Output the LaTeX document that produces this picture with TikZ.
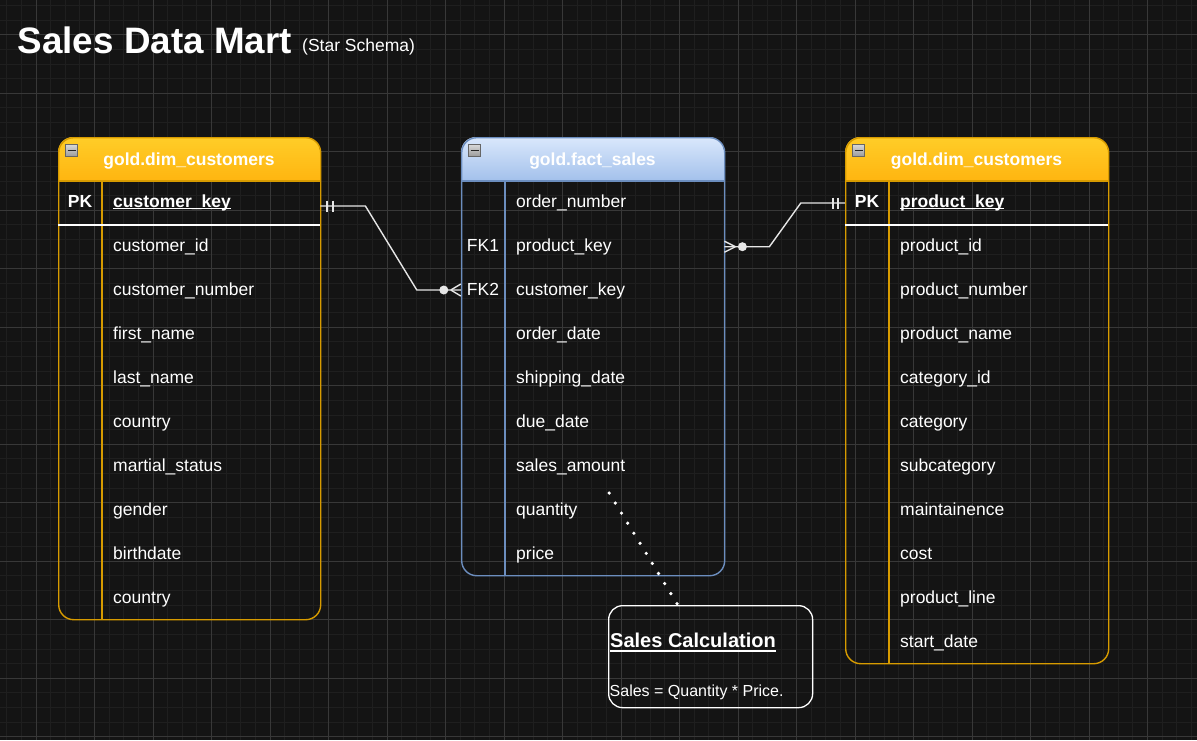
\documentclass[tikz,border=0pt]{standalone}
\usepackage{fontspec}
\setmainfont{Liberation Sans}
\usetikzlibrary{calc}
\definecolor{bg}{HTML}{141414}
\definecolor{gridminor}{HTML}{1F1F1F}
\definecolor{gridmajor}{HTML}{383838}
\definecolor{orstroke}{HTML}{D79B00}
\definecolor{ortop}{HTML}{FFCD28}
\definecolor{orbot}{HTML}{FFA500}
\definecolor{blstroke}{HTML}{6C8EBF}
\definecolor{bltop}{HTML}{DAE8FC}
\definecolor{blbot}{HTML}{7EA6E0}
\definecolor{conn}{HTML}{E6E6E6}
\newcommand\myul[2][-2pt]{\leavevmode\setbox0\hbox{#2}\rlap{\rule[#1]{\wd0}{1.6pt}}\box0}
\begin{document}
\begin{tikzpicture}[x=1pt,y=-1pt,
  tbltext/.style={font=\fontsize{17.5}{21}\selectfont, text=white, text height=12.6pt, text depth=0pt},
  namecell/.style={tbltext, inner xsep=11pt, inner ysep=0pt, minimum height=44pt, text width=#1, align=left, anchor=west},
  keycell/.style={tbltext, inner sep=0pt, minimum width=44pt, minimum height=44pt},
  hdrtext/.style={font=\fontsize{17.5}{21}\selectfont\bfseries, text=white, text height=12.6pt, text depth=0pt, inner sep=0pt},
  tblbox/.style={draw=#1, line width=1.4pt, rounded corners=15pt, inner sep=0pt, anchor=north west},
  minusbox/.style={draw=black!60, line width=0.6pt, top color=white!85!black, bottom color=white!60!black, minimum size=12.5pt, inner sep=0pt,
    path picture={\draw[black!85, line width=1.6pt] ([xshift=-4pt]path picture bounding box.center) -- ([xshift=4pt]path picture bounding box.center);}},
  connline/.style={conn, line width=1.4pt},
]
\useasboundingbox (0,0) rectangle (1197,740);
% background and grid
\fill[bg] (0,0) rectangle (1197,740);
\foreach \i in {0,...,81} \draw[gridminor, line width=1pt] ({6.75+14.625*\i},0) -- ++(0,740);
\foreach \i in {0,...,50} \draw[gridminor, line width=1pt] (0,{5.55+14.625*\i}) -- ++(1197,0);
\foreach \i in {0,...,19} \draw[gridmajor, line width=1pt] ({36+58.5*\i},0) -- ++(0,740);
\foreach \i in {0,...,12} \draw[gridmajor, line width=1pt] (0,{34.8+58.5*\i}) -- ++(1197,0);

% title
\node[anchor=base west, inner sep=0pt, text=white, font=\fontsize{36.8}{40}\selectfont\bfseries] (title) at (17.5,53) {Sales Data Mart};
\node[anchor=base west, inner sep=0pt, text=white, font=\fontsize{17.5}{21}\selectfont] (subtitle) at (302,51) {(Star Schema)};

% ---------- left table ----------
\begin{scope}
\clip (58,130) rectangle (320,181);
\shade[top color=ortop, bottom color=orbot, rounded corners=15pt] (58,137) rectangle (320,210);
\end{scope}
\node[tblbox=orstroke, minimum width=262pt, minimum height=482pt] (cust) at (58,137) {};
\draw[orstroke, line width=1.4pt] (58,181) -- (320,181);
\draw[orstroke, line width=1.4pt] (102,181) -- (102,619);
\draw[white, line width=1.5pt] (58,225) -- (320,225);
\node[minusbox] (cust-icon) at (71.5,150.5) {};
\node[hdrtext] (cust-title) at (189,159) {gold.dim\_customers};
\node[keycell, font=\fontsize{17.5}{21}\selectfont\bfseries] (cust-pkkey) at (80,201) {PK};
\node[namecell=196pt, font=\fontsize{17.5}{21}\selectfont\bfseries] (cust-pk) at (102,201) {\myul{customer\_key}};
\foreach \n [count=\i] in {customer\_id, customer\_number, first\_name, last\_name, country, martial\_status, gender, birthdate, country}
  \node[namecell=196pt] (cust-\i) at (102,{201+44*\i}) {\n};

% ---------- fact table ----------
\begin{scope}
\clip (461,130) rectangle (724,181);
\shade[top color=bltop, bottom color=blbot, rounded corners=15pt] (461,137) rectangle (724,210);
\end{scope}
\node[tblbox=blstroke, minimum width=263pt, minimum height=438pt] (fact) at (461,137) {};
\draw[blstroke, line width=1.4pt] (461,181) -- (724,181);
\draw[blstroke, line width=1.4pt] (505,181) -- (505,575);
\node[minusbox] (fact-icon) at (474.5,150.5) {};
\node[hdrtext] (fact-title) at (592.5,159) {gold.fact\_sales};
\node[keycell] (fact-fk1) at (483,245) {FK1};
\node[keycell] (fact-fk2) at (483,289) {FK2};
\foreach \n [count=\i from 0] in {order\_number, product\_key, customer\_key, order\_date, shipping\_date, due\_date, sales\_amount, quantity, price}
  \node[namecell=197pt] (fact-\i) at (505,{201+44*\i}) {\n};

% ---------- right table ----------
\begin{scope}
\clip (845,130) rectangle (1108,181);
\shade[top color=ortop, bottom color=orbot, rounded corners=15pt] (845,137) rectangle (1108,210);
\end{scope}
\node[tblbox=orstroke, minimum width=263pt, minimum height=526pt] (prod) at (845,137) {};
\draw[orstroke, line width=1.4pt] (845,181) -- (1108,181);
\draw[orstroke, line width=1.4pt] (889,181) -- (889,663);
\draw[white, line width=1.5pt] (845,225) -- (1108,225);
\node[minusbox] (prod-icon) at (858.5,150.5) {};
\node[hdrtext] (prod-title) at (976.5,159) {gold.dim\_customers};
\node[keycell, font=\fontsize{17.5}{21}\selectfont\bfseries] (prod-pkkey) at (867,201) {PK};
\node[namecell=197pt, font=\fontsize{17.5}{21}\selectfont\bfseries] (prod-pk) at (889,201) {\myul{product\_key}};
\foreach \n [count=\i] in {product\_id, product\_number, product\_name, category\_id, category, subcategory, maintainence, cost, product\_line, start\_date}
  \node[namecell=197pt] (prod-\i) at (889,{201+44*\i}) {\n};

% ---------- connector: customers -> fact ----------
\coordinate (c1a) at ($(cust-pk.east)+(0,5)$);
\coordinate (c1b) at ($(fact-fk2.west)+(0,1)$);
\draw[connline] (c1a) -- ++(45,0) -- ($(c1b)+(-44,0)$) -- (c1b);
\draw[connline] ($(c1a)+(6.7,-5.5)$) -- ++(0,11) ($(c1a)+(12.7,-5.5)$) -- ++(0,11);
\draw[connline] ($(c1b)+(-10,0)$) -- ($(c1b)+(0,-6)$) ($(c1b)+(-10,0)$) -- ($(c1b)+(0,6)$);
\fill[conn] ($(c1b)+(-17,0)$) circle[radius=4.5];

% ---------- connector: fact -> products ----------
\coordinate (c2a) at ($(fact-1.east)+(0,1.7)$);
\coordinate (c2b) at ($(prod-pkkey.west)+(0,2)$);
\draw[connline] (c2a) -- ++(45,0) -- ($(c2b)+(-44,0)$) -- (c2b);
\draw[connline] ($(c2b)+(-6.7,-5.5)$) -- ++(0,11) ($(c2b)+(-12,-5.5)$) -- ++(0,11);
\draw[connline] ($(c2a)+(11,0)$) -- ($(c2a)+(0,-5.5)$) ($(c2a)+(11,0)$) -- ($(c2a)+(0,5.5)$);
\fill[conn] ($(c2a)+(18,0)$) circle[radius=4.5];

% ---------- note ----------
\node[draw=white, line width=1.3pt, rounded corners=14pt, minimum width=204pt, minimum height=102pt, inner sep=0pt, anchor=north west] (note) at (608,605) {};
\node[anchor=base west, inner sep=0pt, text=white, font=\fontsize{20}{24}\selectfont\bfseries] (note-title) at (610,647.7) {\myul[-4pt]{Sales Calculation}};
\node[anchor=base west, inner sep=0pt, text=white, font=\fontsize{16}{19}\selectfont] (note-body) at (609.5,696) {Sales = Quantity * Price.};
\coordinate (dotstart) at ($(fact-6.center)+(-5.5,28)$);
\draw[white, line width=3.6pt, line cap=round, dash pattern=on 0pt off 11.8pt] (dotstart) -- ($(note.north west)!0.34!(note.north east)$);
\end{tikzpicture}
\end{document}
